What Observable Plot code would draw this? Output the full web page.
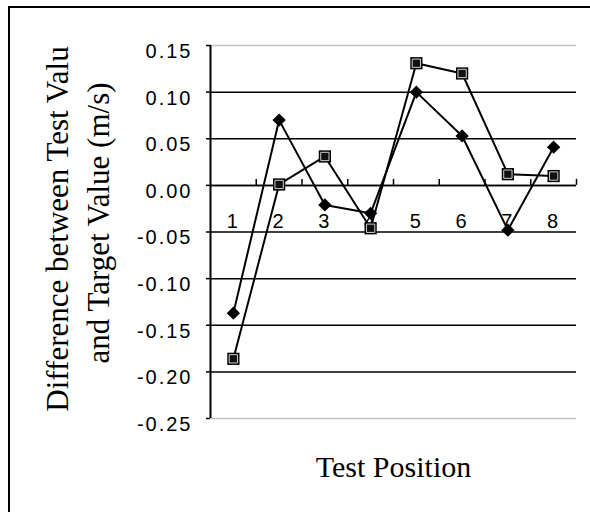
<!DOCTYPE html>
<html>
<head>
<meta charset="utf-8">
<script src="https://cdn.jsdelivr.net/npm/d3@7"></script>
<script src="https://cdn.jsdelivr.net/npm/@observablehq/plot@0.6"></script>
<style>
  html, body { margin: 0; padding: 0; background: #fff; }
  #chart { position: relative; width: 590px; height: 512px; overflow: hidden; }
  /* chart-area border: only its left and top edges fall inside the page */
  #chart::before {
    content: ""; position: absolute; left: 8px; top: 6px; right: -20px; bottom: -20px;
    border-left: 2px solid #000; border-top: 2px solid #000; pointer-events: none;
  }
  g[aria-description="tick labels"] text { letter-spacing: 2px; }
</style>
</head>
<body>
<div id="chart"></div>
<script>
// Test positions along the x axis
const positions = [1, 2, 3, 4, 5, 6, 7, 8];
// Difference between test value and target value (m/s), two test runs
const diamondSeries = [-0.137, 0.070, -0.021, -0.030, 0.100, 0.053, -0.048, 0.041];
const squareSeries  = [-0.186, 0.001, 0.031, -0.046, 0.131, 0.120, 0.012, 0.010];
// Value-axis ticks
const yTicks = [0.15, 0.10, 0.05, 0.00, -0.05, -0.10, -0.15, -0.20, -0.25];
const yTitleLines = ["Difference between Test Valu", "and Target Value (m/s)"];
const xTitle = "Test Position";

const rows = positions.map((p, i) => ({position: p, diamond: diamondSeries[i], square: squareSeries[i]}));
// category edges, where the x-axis tick marks sit
const edges = positions.map(p => p + 0.5);
const yMin = d3.min(yTicks), yMax = d3.max(yTicks);
const innerTicks = yTicks.filter(t => t !== yMin && t !== yMax);

const serif = "'Liberation Serif', 'Times New Roman', serif";

const chart = Plot.plot({
  width: 590,
  height: 512,
  marginLeft: 210,
  marginRight: 14,
  marginTop: 45,
  marginBottom: 94,
  style: {background: "#fff", fontFamily: "'Liberation Sans', Arial, sans-serif", color: "#000"},
  x: {domain: [0.5, 8.5], axis: null},
  y: {domain: [yMin, yMax], axis: null},
  marks: [
    // gridlines
    Plot.ruleY([yMax, yMin], {stroke: "#c4c4c4", strokeWidth: 1.5}),
    Plot.ruleY(innerTicks, {stroke: "#000", strokeWidth: 1.5}),
    // value axis line and its outward ticks
    Plot.ruleX([0.5], {stroke: "#000", strokeWidth: 2}),
    Plot.ruleY(yTicks, {x1: 0.5, x2: 0.5, insetLeft: -4, stroke: "#000", strokeWidth: 1.5}),
    Plot.text(yTicks, {
      y: d => d, frameAnchor: "left", textAnchor: "end", dx: -18, dy: 6,
      text: d => d.toFixed(2), fontSize: 20, fill: "#000", ariaDescription: "tick labels"
    }),
    // category axis along zero, with tick marks at category edges
    Plot.ruleY([0], {stroke: "#000", strokeWidth: 1.5}),
    Plot.ruleX(edges, {y1: 0, y2: 0, insetBottom: 6, stroke: "#000", strokeWidth: 1.5}),
    Plot.text(positions, {
      x: d => d, y: () => 0, dy: 36, text: d => String(d),
      fontSize: 20, fill: "#000", ariaDescription: "tick labels"
    }),
    // the two series
    Plot.line(rows, {x: "position", y: "square", stroke: "#000", strokeWidth: 2}),
    Plot.line(rows, {x: "position", y: "diamond", stroke: "#000", strokeWidth: 2}),
    Plot.dot(rows, {x: "position", y: "square", symbol: "square", r: 6.9, fill: "#000", stroke: "none"}),
    Plot.dot(rows, {x: "position", y: "square", symbol: "square", r: 4.7, fill: "#111", stroke: "#d0d0d0", strokeWidth: 1}),
    Plot.dot(rows, {x: "position", y: "diamond", symbol: "diamond2", r: 6, fill: "#000", stroke: "none"}),
    // axis titles
    Plot.text([yTitleLines[0]], {
      frameAnchor: "left", textAnchor: "middle", lineAnchor: "middle", rotate: -90,
      dx: -152, dy: -3, text: d => d, fontSize: 31, fontFamily: serif, fill: "#000"
    }),
    Plot.text([yTitleLines[1]], {
      frameAnchor: "left", textAnchor: "middle", lineAnchor: "middle", rotate: -90,
      dx: -111, dy: -9, text: d => d, fontSize: 31, fontFamily: serif, fill: "#000"
    }),
    Plot.text([xTitle], {
      frameAnchor: "bottom", textAnchor: "middle", lineAnchor: "middle",
      dy: 49, text: d => d, fontSize: 30, fontFamily: serif, fill: "#000"
    })
  ]
});

document.getElementById("chart").appendChild(chart);
</script>
</body>
</html>
